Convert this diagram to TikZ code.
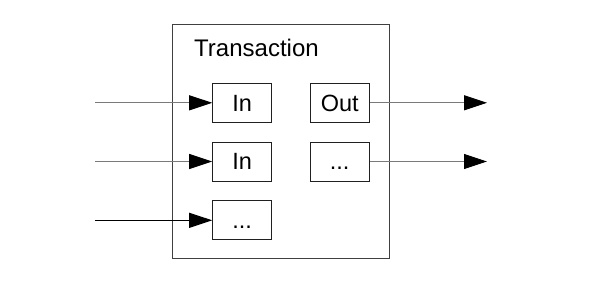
\documentclass[tikz,border=0pt]{standalone}
\usepackage{fontspec}
\setmainfont{Liberation Sans}
\usetikzlibrary{arrows.meta}
\definecolor{lgray}{HTML}{7A7A7A}
\definecolor{dgray}{HTML}{404040}
\definecolor{bk}{HTML}{202020}
\begin{document}
\begin{tikzpicture}[x=1pt,y=-1pt,
  io/.style={draw=bk,line width=1pt,minimum width=59pt,minimum height=39pt,inner sep=0pt,text height=16.8pt,text depth=0pt,font=\fontsize{23.5}{26}\selectfont},
  conn/.style={draw=#1,line width=1pt,-{Triangle[length=23pt,width=15pt,fill=black,color=black]}},
  conn/.default=lgray]
\useasboundingbox (0,0) rectangle (596,294);
\draw[dgray,line width=1pt] (172.7,25) rectangle (389.3,258.3);
\node[anchor=base west,font=\fontsize{24}{26}\selectfont,inner sep=0pt] (title) at (194,56.7) {Transaction};
\node[io] (in1) at (242.2,102.8) {In};
\node[io] (in2) at (242.2,161.5) {In};
\node[io] (in3) at (242.2,220.3) {...};
\node[io] (out1) at (339.7,102.8) {Out};
\node[io] (out2) at (339.7,161.5) {...};
\coordinate (s1) at (95,102.8);
\coordinate (s2) at (95,161.5);
\coordinate (s3) at (95,220.3);
\coordinate (e1) at (487,102.8);
\coordinate (e2) at (487,161.5);
\draw[conn] (s1) -- (in1.west);
\draw[conn] (s2) -- (in2.west);
\draw[conn=black] (s3) -- (in3.west);
\draw[conn] (out1.east) -- (e1);
\draw[conn] (out2.east) -- (e2);
\end{tikzpicture}
\end{document}
